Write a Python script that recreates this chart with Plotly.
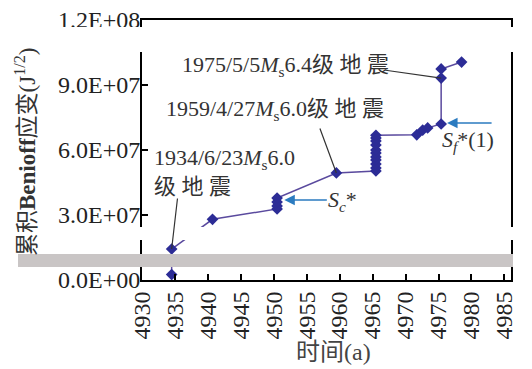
import plotly.graph_objects as go

# ---- data ----
years = [1934.5, 1934.5, 1940.7,
         1950.5, 1950.5, 1950.5, 1950.5,
         1959.5,
         1965.5, 1965.5, 1965.5, 1965.5, 1965.5, 1965.5, 1965.5, 1965.5, 1965.5, 1965.5, 1965.5,
         1971.7, 1972.6, 1973.35,
         1975.4, 1975.4, 1975.4,
         1978.5]
strain = [2.5e6, 1.43e7, 2.8e7,
          3.28e7, 3.42e7, 3.6e7, 3.78e7,
          4.94e7,
          5.03e7, 5.17e7, 5.35e7, 5.54e7, 5.68e7, 5.86e7, 6.0e7, 6.23e7, 6.42e7, 6.55e7, 6.68e7,
          6.7e7, 6.92e7, 7.02e7,
          7.2e7, 9.32e7, 9.74e7,
          1.006e8]

x_tick_vals = [1930, 1935, 1940, 1945, 1950, 1955, 1960, 1965, 1970, 1975, 1980, 1985]
x_tick_text = ["4930", "4935", "4940", "4945", "4950", "4955", "4960", "4965",
               "4970", "4975", "4980", "4985"]
y_tick_vals = [0, 3e7, 6e7, 9e7, 1.2e8]
y_tick_text = ["0.0E+00", "3.0E+07", "6.0E+07", "9.0E+07", "1.2E+08"]

SERIF = "Liberation Serif, Times New Roman, Noto Sans CJK SC, serif"
TXT = "#333333"
ARROW = "#2b7bc0"

fig = go.Figure()
fig.add_trace(go.Scatter(
    x=years, y=strain, mode="lines+markers",
    line=dict(color="#5a4a9e", width=1.5),
    marker=dict(symbol="diamond", size=9, color="#2c2c96"),
    showlegend=False, hoverinfo="x+y"))

ann = []
# leader lines to earthquakes
def leader(x, y, ax, ay):
    ann.append(dict(x=x, y=y, xref="x", yref="y", ax=ax, ay=ay, text="",
                    showarrow=True, arrowhead=0, arrowwidth=1.2, arrowcolor="#333333"))

leader(years[23], strain[23], -57, -8)
leader(years[7], strain[7], -17, -46)
leader(years[1], strain[1], 6, -52)

# plot area in window pixels: x 142..511, y 20..280 (page body adds an 8px offset)
OFF = 8
L, R, T, B = 142, 511, 20, 280
def px(x):
    return (x - L) / float(R - L)
def py(y):
    return (B - y) / float(B - T)

def label(x, y, text):
    ann.append(dict(x=px(x), y=py(y), xref="paper", yref="paper", text=text, showarrow=False,
                    xanchor="left", yanchor="middle", align="left",
                    font=dict(family=SERIF, size=22, color=TXT)))

label(180, 66, "1975/5/5<i>M</i><sub>s</sub>6.4级 地 震")
label(164, 110, "1959/4/27<i>M</i><sub>s</sub>6.0级 地 震")
label(152, 172, "1934/6/23<i>M</i><sub>s</sub>6.0<br>级 地 震")

# arrows for Sc* and Sf*
ann.append(dict(x=1951.6, y=3.69e7, xref="x", yref="y", ax=44, ay=0, text="",
                showarrow=True, arrowhead=2, arrowsize=1.4, arrowwidth=1.5, arrowcolor=ARROW))
ann.append(dict(x=1976.3, y=7.25e7, xref="x", yref="y", ax=46, ay=0, text="",
                showarrow=True, arrowhead=2, arrowsize=1.4, arrowwidth=1.5, arrowcolor=ARROW))
label(326, 201, "<i>S<sub>c</sub></i>*")
label(440, 141, "<i>S<sub>f</sub></i>*(1)")

# axis titles placed as text at the reference positions
ann.append(dict(x=px(25), y=py(152), xref="paper", yref="paper",
                text="累积<b>Benioff</b>应变(J<sup>1/2</sup>)", textangle=-90,
                showarrow=False, xanchor="center", yanchor="middle",
                font=dict(family=SERIF, size=23, color="#333333")))
ann.append(dict(x=px(333), y=py(352), xref="paper", yref="paper",
                text="时间(a)", showarrow=False, xanchor="center", yanchor="middle",
                font=dict(family=SERIF, size=24, color="#444444")))

fig.update_layout(
    width=532, height=369,
    margin=dict(l=L - OFF, r=532 - (R - OFF), t=T - OFF, b=369 - (B - OFF)),
    paper_bgcolor="white", plot_bgcolor="white",
    font=dict(family=SERIF, color=TXT),
    annotations=ann,
    shapes=[
        # scan artefacts of the reference: light bands
        dict(type="rect", xref="paper", yref="paper", x0=-0.4, x1=1.1, y0=py(52), y1=py(27),
             fillcolor="white", line=dict(width=0), layer="above"),
        dict(type="rect", xref="paper", yref="paper", x0=-0.4, x1=1.1, y0=py(240), y1=py(227),
             fillcolor="white", line=dict(width=0), layer="above"),
        dict(type="rect", xref="paper", yref="paper", x0=px(18), x1=px(513), y0=py(267), y1=py(254),
             fillcolor="#c9c5c5", line=dict(width=0), layer="above"),
    ],
)
fig.update_xaxes(
    range=[1930, 1986], tickvals=x_tick_vals, ticktext=x_tick_text, tickangle=-90,
    ticks="inside", ticklen=6, tickwidth=2, tickcolor="black", automargin=False,
    showline=True, linewidth=2, linecolor="black", mirror=True, showgrid=False, zeroline=False,
    tickfont=dict(family=SERIF, size=24, color="#222222"),
)
fig.update_yaxes(
    range=[0, 1.2e8], tickvals=y_tick_vals, ticktext=y_tick_text,
    ticks="inside", ticklen=6, tickwidth=2, tickcolor="black", automargin=False,
    ticklabelstandoff=-5, ticklabeloverflow="allow",
    showline=True, linewidth=2, linecolor="black", mirror=True, showgrid=False, zeroline=False,
    tickfont=dict(family=SERIF, size=24, color="#222222"),
)

fig.write_html("out.html")
